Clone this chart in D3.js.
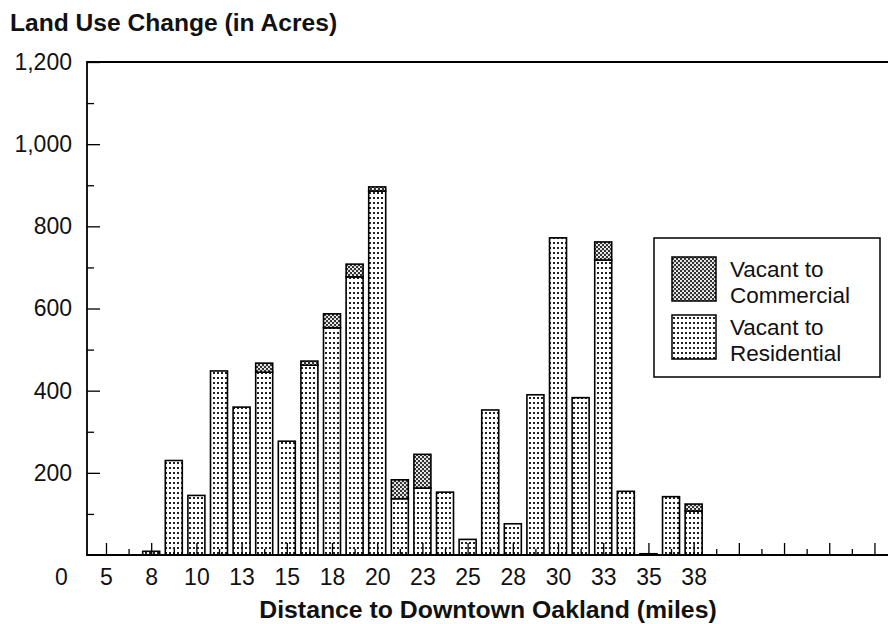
<!DOCTYPE html>
<html>
<head>
<meta charset="utf-8">
<script src="https://cdn.jsdelivr.net/npm/d3@7"></script>
<style>
  body { margin: 0; background: #fff; }
  svg { display: block; font-family: "Liberation Sans", Arial, sans-serif; }
</style>
</head>
<body>
<svg id="chart" width="888" height="624"></svg>
<script>
// bar positions, miles from downtown Oakland (one bar every 1.25 mi)
var miles = [7.5, 8.75, 10, 11.25, 12.5, 13.75, 15, 16.25, 17.5, 18.75, 20, 21.25,
             22.5, 23.75, 25, 26.25, 27.5, 28.75, 30, 31.25, 32.5, 33.75, 35, 36.25, 37.5];
var residential = [9, 230, 145, 448, 360, 445, 277, 462, 553, 677, 886, 137,
                   163, 153, 38, 353, 76, 390, 772, 383, 718, 155, 3, 142, 107];
var commercial = [0, 0, 0, 0, 0, 22, 0, 10, 34, 31, 10, 46,
                  82, 0, 0, 0, 0, 0, 0, 0, 44, 0, 0, 0, 17];

// x tick labels as printed on the chart
var tickMiles = [2.5, 5, 7.5, 10, 12.5, 15, 17.5, 20, 22.5, 25, 27.5, 30, 32.5, 35, 37.5];
var tickLabels = ["0", "5", "8", "10", "13", "15", "18", "20", "23", "25", "28", "30", "33", "35", "38"];
var yLabels = [200, 400, 600, 800, 1000, 1200];

(function() {

var svg = d3.select("#chart");
var left = 87, right = 890, plotTop = 62, bottom = 555;

var x = d3.scaleLinear().domain([3.95, 48.36]).range([left, right]);
var y = d3.scaleLinear().domain([0, 1200]).range([bottom, plotTop]);

var rows = miles.map(function(m, i) {
    return {mile: m, residential: residential[i], commercial: commercial[i]};
});
var stacked = d3.stack().keys(["residential", "commercial"])(rows);

// fill patterns
var defs = svg.append("defs");
var pRes = defs.append("pattern").attr("id", "pRes")
    .attr("patternUnits", "userSpaceOnUse").attr("width", 4).attr("height", 5);
pRes.append("rect").attr("width", 4).attr("height", 5).attr("fill", "#fff");
pRes.append("rect").attr("x", 1).attr("y", 2).attr("width", 2).attr("height", 2)
    .attr("fill", "#222").attr("shape-rendering", "crispEdges");

var pCom = defs.append("pattern").attr("id", "pCom")
    .attr("patternUnits", "userSpaceOnUse").attr("width", 4).attr("height", 4);
pCom.append("rect").attr("width", 4).attr("height", 4).attr("fill", "#333");
pCom.append("circle").attr("cx", 1).attr("cy", 1).attr("r", 1.05).attr("fill", "#fff");
pCom.append("circle").attr("cx", 3).attr("cy", 3).attr("r", 1.05).attr("fill", "#fff");

var fills = {residential: "url(#pRes)", commercial: "url(#pCom)"};
var barW = 17;

// bars
svg.append("g").selectAll("g")
    .data(stacked)
    .enter().append("g")
    .attr("fill", function(s) { return fills[s.key]; })
    .selectAll("rect")
    .data(function(s) { return s.filter(function(d) { return d[1] > d[0]; }); })
    .enter().append("rect")
    .attr("x", function(d) { return x(d.data.mile) - barW / 2; })
    .attr("y", function(d) { return y(d[1]); })
    .attr("width", barW)
    .attr("height", function(d) { return y(d[0]) - y(d[1]); })
    .attr("stroke", "#000")
    .attr("stroke-width", 1.6);

function thin(g) {
    g.select(".domain").remove();
    g.selectAll("line").attr("stroke-width", 1.3);
}

// inside ticks on x axis
svg.append("g").attr("transform", "translate(0," + bottom + ")")
    .call(d3.axisTop(x).tickValues(d3.range(5, 48, 2.5)).tickSize(12).tickFormat(""))
    .call(thin);
svg.append("g").attr("transform", "translate(0," + bottom + ")")
    .call(d3.axisTop(x).tickValues(d3.range(6.25, 48, 2.5)).tickSize(6).tickFormat(""))
    .call(thin);

// x labels
svg.append("g").attr("transform", "translate(0," + bottom + ")")
    .call(d3.axisBottom(x).tickValues(tickMiles).tickSize(0).tickPadding(14)
        .tickFormat(function(d, i) { return tickLabels[i]; }))
    .call(function(g) {
        g.select(".domain").remove();
        g.selectAll("text").attr("font-size", 23)
            .attr("font-family", "Liberation Sans, Arial, sans-serif").attr("fill", "#111");
    });

// y ticks inside
svg.append("g").attr("transform", "translate(" + left + ",0)")
    .call(d3.axisRight(y).tickValues(d3.range(100, 1200, 200)).tickSize(7).tickFormat(""))
    .call(thin);
svg.append("g").attr("transform", "translate(" + left + ",0)")
    .call(d3.axisRight(y).tickValues(yLabels).tickSize(13).tickFormat(""))
    .call(thin);

// y labels
svg.append("g").attr("transform", "translate(" + left + ",0)")
    .call(d3.axisLeft(y).tickValues(yLabels).tickSize(0).tickPadding(15).tickFormat(d3.format(",")))
    .call(function(g) {
        g.select(".domain").remove();
        g.selectAll("text").attr("font-size", 23)
            .attr("font-family", "Liberation Sans, Arial, sans-serif").attr("fill", "#111");
    });

// frame: top, left, bottom
svg.append("path")
    .attr("d", "M" + right + "," + plotTop + "H" + left + "V" + bottom + "H" + right)
    .attr("fill", "none").attr("stroke", "#000").attr("stroke-width", 1.8);

// titles
svg.append("text").attr("x", 10).attr("y", 31)
    .attr("font-size", 24.6).attr("font-weight", "bold").attr("fill", "#111")
    .text("Land Use Change (in Acres)");
svg.append("text").attr("x", 488).attr("y", 618).attr("text-anchor", "middle")
    .attr("font-size", 24.8).attr("font-weight", "bold").attr("fill", "#111")
    .text("Distance to Downtown Oakland (miles)");

// legend
var legend = svg.append("g");
legend.append("rect").attr("x", 654).attr("y", 238).attr("width", 226).attr("height", 139)
    .attr("fill", "#fff").attr("stroke", "#000").attr("stroke-width", 1.5);
var items = [
    {key: "commercial", lines: ["Vacant to", "Commercial"], y: 257},
    {key: "residential", lines: ["Vacant to", "Residential"], y: 315}
];
items.forEach(function(it) {
    legend.append("rect").attr("x", 672).attr("y", it.y).attr("width", 44).attr("height", 44)
        .attr("fill", fills[it.key]).attr("stroke", "#000").attr("stroke-width", 1.5);
    it.lines.forEach(function(t, j) {
        legend.append("text").attr("x", 730).attr("y", it.y + 20 + j * 25.5)
            .attr("font-size", 22.5).attr("fill", "#111").text(t);
    });
});

})();
</script>
</body>
</html>
